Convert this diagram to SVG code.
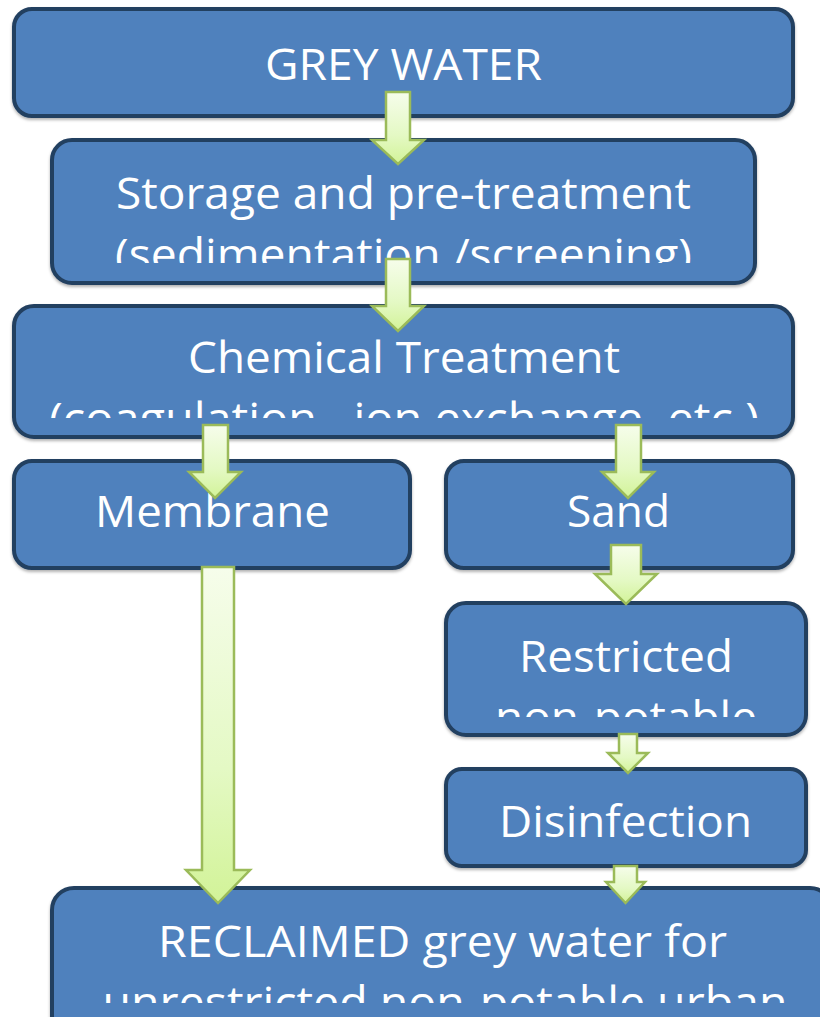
<svg xmlns="http://www.w3.org/2000/svg" width="820" height="1017" viewBox="0 0 820 1017">
<style>
.box{fill:#4f81bd;stroke:#243f60;stroke-width:4}
.t{fill:#ffffff;font-family:"Open Sans","Noto Sans","Liberation Sans",sans-serif;font-size:44px;text-anchor:middle}
.arr{fill:url(#ag);stroke:#9bbb59;stroke-width:2.5;stroke-linejoin:miter}
</style>
<defs>
<linearGradient id="ag" x1="0" y1="0" x2="0" y2="1">
<stop offset="0" stop-color="#f6fdeb"/>
<stop offset="0.6" stop-color="#e4f9c4"/>
<stop offset="1" stop-color="#d2f398"/>
</linearGradient>
<filter id="sh" x="-5%" y="-5%" width="110%" height="120%">
<feDropShadow dx="0" dy="2" stdDeviation="1.5" flood-color="#000" flood-opacity="0.3"/>
</filter>
<clipPath id="c2"><rect x="52" y="140" width="703" height="123"/></clipPath>
<clipPath id="c3"><rect x="14" y="306" width="779" height="112"/></clipPath>
<clipPath id="c6"><rect x="446" y="603" width="360" height="114"/></clipPath>
<clipPath id="c8"><rect x="52" y="888" width="780" height="115"/></clipPath>
</defs>
<g id="n1">
<rect class="box" x="14" y="9" width="779" height="107" rx="18" filter="url(#sh)"/>
<text class="t" x="403.5" y="80" textLength="277" lengthAdjust="spacingAndGlyphs">GREY WATER</text>
</g>
<g id="n2">
<rect class="box" x="52" y="140" width="703" height="143" rx="20" filter="url(#sh)"/>
<text class="t" x="403.5" y="209" textLength="575" lengthAdjust="spacingAndGlyphs">Storage and pre-treatment</text>
<text class="t" x="403.5" y="270" textLength="577" lengthAdjust="spacingAndGlyphs" clip-path="url(#c2)">(sedimentation /screening)</text>
</g>
<g id="n3">
<rect class="box" x="14" y="306" width="779" height="131" rx="20" filter="url(#sh)"/>
<text class="t" x="404" y="373" textLength="432" lengthAdjust="spacingAndGlyphs">Chemical Treatment</text>
<text class="t" x="404" y="434" textLength="710" lengthAdjust="spacingAndGlyphs" clip-path="url(#c3)">(coagulation , ion exchange, etc.)</text>
</g>
<g id="n4">
<rect class="box" x="14" y="461" width="396" height="107" rx="18" filter="url(#sh)"/>
<text class="t" x="212.5" y="527" textLength="235" lengthAdjust="spacingAndGlyphs">Membrane</text>
</g>
<g id="n5">
<rect class="box" x="446" y="461" width="347" height="107" rx="18" filter="url(#sh)"/>
<text class="t" x="618.5" y="527" textLength="103" lengthAdjust="spacingAndGlyphs">Sand</text>
</g>
<g id="n6">
<rect class="box" x="446" y="603" width="360" height="132" rx="20" filter="url(#sh)"/>
<text class="t" x="626" y="672" textLength="214" lengthAdjust="spacingAndGlyphs">Restricted</text>
<text class="t" x="626" y="733" textLength="262" lengthAdjust="spacingAndGlyphs" clip-path="url(#c6)">non-potable</text>
</g>
<g id="n7">
<rect class="box" x="446" y="769" width="360" height="97" rx="16" filter="url(#sh)"/>
<text class="t" x="625.5" y="837" textLength="253" lengthAdjust="spacingAndGlyphs">Disinfection</text>
</g>
<g id="n8">
<rect class="box" x="52" y="888" width="780" height="150" rx="22" filter="url(#sh)"/>
<text class="t" x="442.5" y="957" textLength="569" lengthAdjust="spacingAndGlyphs">RECLAIMED grey water for</text>
<text class="t" x="445" y="1018" textLength="685" lengthAdjust="spacingAndGlyphs" clip-path="url(#c8)">unrestricted non-potable urban</text>
</g>
<g id="connectors">
<path class="arr" d="M386,92 H410 V140 H424 L398,164 L372,140 H386 Z"/>
<path class="arr" d="M386,259 H410 V306 H424 L398,331 L372,306 H386 Z"/>
<path class="arr" d="M203,425 H228 V472 H241 L215,498 L189,472 H203 Z"/>
<path class="arr" d="M616,425 H641 V472 H654 L628,498 L602,472 H616 Z"/>
<path class="arr" d="M611,545 H641 V574 H657 L626,604 L595,574 H611 Z"/>
<path class="arr" d="M202,567 H234 V870 H250 L218,903 L186,870 H202 Z"/>
<path class="arr" d="M619,734 H637 V753 H648 L628,773 L608,753 H619 Z"/>
<path class="arr" d="M614,866 H637 V882 H645 L625.5,903 L606,882 H614 Z"/>
</g>
</svg>
